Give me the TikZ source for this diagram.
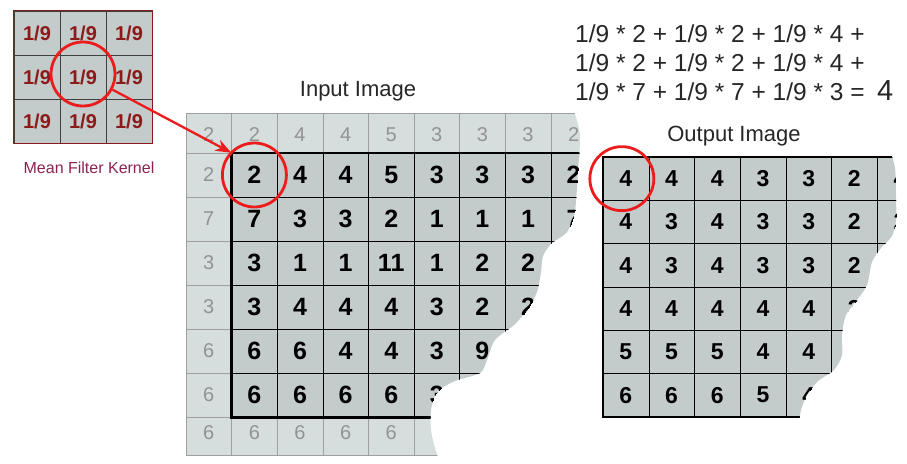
\documentclass[tikz,border=0pt]{standalone}
\usepackage{fontspec}
\setmainfont{Liberation Sans}
\usepackage{tikz}
\usetikzlibrary{arrows,arrows.meta}
\tikzset{>=stealth}
\usetikzlibrary{positioning}
\definecolor{cellin}{HTML}{C3CBCB}
\definecolor{cellout}{HTML}{D5DDDD}
\definecolor{kernred}{HTML}{8B1A1A}
\definecolor{kernlabel}{HTML}{8B2252}
\definecolor{ringred}{HTML}{EC1C1C}
\tikzset{
  kcell/.style={draw=black!75, fill=cellin, minimum width=46pt, minimum height=44pt,
    inner sep=0pt, text=kernred, font=\fontsize{20}{20}\selectfont\bfseries},
  padcell/.style={draw=gray!75, fill=cellout, minimum width=45.6pt, minimum height=44pt,
    inner sep=0pt, text=gray!85, font=\fontsize{20}{20}\selectfont},
  incell/.style={draw=black, fill=cellin, minimum width=45.6pt, minimum height=44pt,
    inner sep=0pt, font=\fontsize{25}{25}\selectfont\bfseries},
  outcell/.style={draw=black, fill=cellin, minimum width=45.7pt, minimum height=43.3pt,
    inner sep=0pt, font=\fontsize{23}{23}\selectfont\bfseries},
  heavy/.style={line width=2.6pt, line cap=rect},
  ring/.style={circle, draw=ringred, line width=2.8pt, minimum size=64pt, inner sep=0pt},
  pointer/.style={-{Stealth[length=16pt,width=12pt]}, ringred, line width=2.3pt},
  formula/.style={anchor=base west, inner sep=0pt, text=black!85, font=\fontsize{24.5}{24.5}\selectfont},
  title/.style={anchor=base, inner sep=0pt, text=black!85, font=\fontsize{22}{22}\selectfont}
}
\begin{document}
\begin{tikzpicture}[x=1pt,y=-1pt]
  \useasboundingbox (0,0) rectangle (907,463);

	% kernel
	\foreach \r in {1,2,3}
	  \foreach \c in {1,2,3}
	    \node[kcell] (k-\r-\c) at (-9+46*\c,-11+44*\r) {1/9};
	\draw [kernred, line width=1.2pt] (k-1-1.north west) rectangle (k-3-3.south east);
	\node[inner sep=0pt, anchor=base, text=kernlabel, font=\fontsize{16}{16}\selectfont] (klabel) at (89,173) {Mean Filter Kernel};

	% input image
	\begin{scope}
	\clip (185,111) -- plot[smooth] coordinates {(574,111) (580,135) (578,170) (575,210) (567,232) (552,243) (543,256) (541,272) (537,292) (527,310) (514,325) (495,340) (487,360) (480,373) (455,381) (437,392) (431,410) (431,430) (435,448) (438,457)} -- (185,457) -- cycle;
	\foreach \v [count=\c from 0] in {2,2,4,4,5,3,3,3,2}
	  \node[padcell] (pt-\c) at (208.8+45.6*\c,135) {\v};
	\foreach \v [count=\c from 0] in {6,6,6,6,6,{},{},{},{}}
	  \node[padcell] (pb-\c) at (208.8+45.6*\c,433) {\v};
	\foreach \v [count=\r] in {2,7,3,3,6,6}
	  \node[padcell] (pl-\r) at (208.8,131+44*\r) {\v};
	\foreach \r/\row in {1/{2,4,4,5,3,3,3,2},2/{7,3,3,2,1,1,1,7},3/{3,1,1,11,1,2,2,{}},
	    4/{3,4,4,4,3,2,2,{}},5/{6,6,4,4,3,9,{},{}},6/{6,6,6,6,3,{},{},{}}}
	  \foreach \v [count=\c] in \row
	    \node[incell] (in-\r-\c) at (208.8+45.6*\c,131+44*\r) {\v};
	\draw [heavy] (in-1-8.north east) -- (in-1-1.north west) -- (in-6-1.south west) -- (in-6-8.south east);
	\end{scope}
	\node[title] (intitle) at (358,96) {Input Image};

	% output image
	\begin{scope}
	\clip (598,151) -- plot[smooth] coordinates {(890,151) (895,168) (896,195) (896,220) (892,236) (881,248) (872,262) (867,285) (857,300) (846,315) (842,335) (842,355) (834,370) (818,381) (807,395) (801,410) (799,423)} -- (598,423) -- cycle;
	\foreach \r/\row in {1/{4,4,4,3,3,2,4},2/{4,3,4,3,3,2,2},3/{4,3,4,3,3,2,{}},
	    4/{4,4,4,4,4,3,{}},5/{5,5,5,4,4,{},{}},6/{6,6,6,5,4,{},{}}}
	  \foreach \v [count=\c] in \row
	    \node[outcell] (out-\r-\c) at (580.15+45.7*\c,135.35+43.3*\r) {\v};
	\draw [heavy] (out-1-7.north east) -- (out-1-1.north west) -- (out-6-1.south west) -- (out-6-7.south east);
	\end{scope}
	\node[title] (outtitle) at (734,141) {Output Image};

	% sum
	\node[formula] (sum1) at (575,42) {1/9 * 2 + 1/9 * 2 + 1/9 * 4 +};
	\node[formula] (sum2) at (575,71) {1/9 * 2 + 1/9 * 2 + 1/9 * 4 +};
	\node[formula] (sum3) at (575,100) {1/9 * 7 + 1/9 * 7 + 1/9 * 3 =};
	\node[formula, font=\fontsize{29}{29}\selectfont] (result) at (877,100) {4};

	% rings and arrow
	\node[ring, yshift=3pt] (kring) at (k-2-2) {};
	\node[ring] (inring) at (in-1-1) {};
	\node[ring, xshift=-4pt] (outring) at (out-1-1) {};
	\draw [pointer] (kring) -- (in-1-1.north west);

\end{tikzpicture}
\end{document}
